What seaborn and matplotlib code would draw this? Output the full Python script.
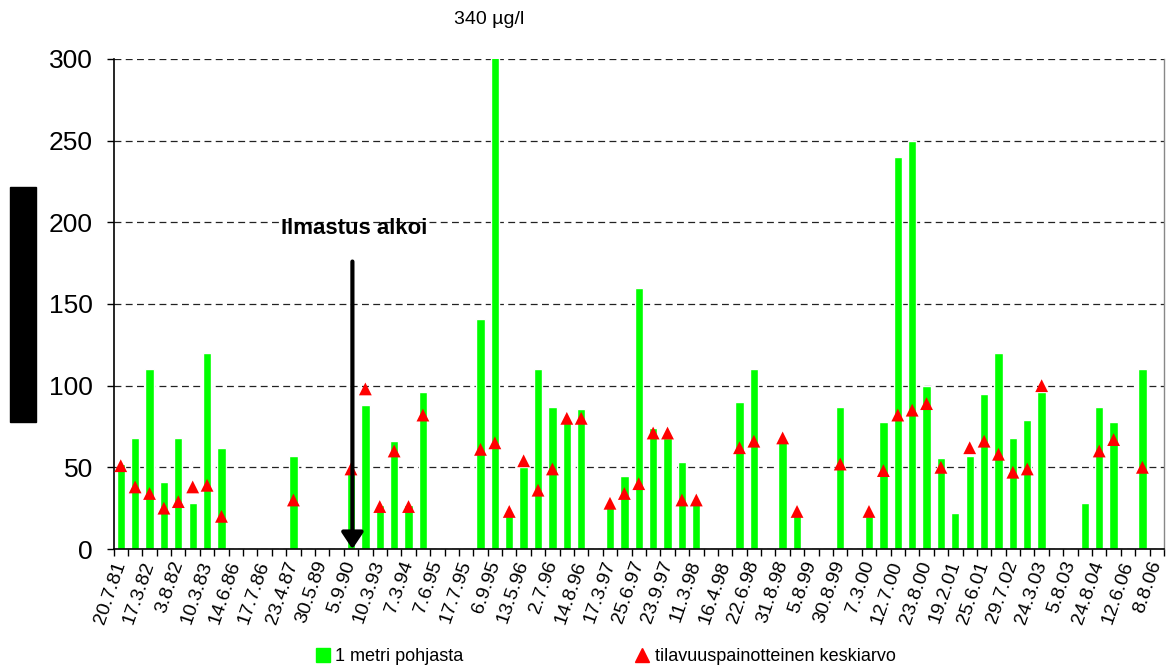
import numpy as np
import pandas as pd
import matplotlib
matplotlib.use("Agg")
import matplotlib.pyplot as plt
from matplotlib.lines import Line2D
from matplotlib.patches import Rectangle
import seaborn as sns

# Havaintopäivät: joka toinen luokka on nimetty akselilla
N_CATS = 73
tick_labels = ['20.7.81', '17.3.82', '3.8.82', '10.3.83', '14.6.86', '17.7.86',
               '23.4.87', '30.5.89', '5.9.90', '10.3.93', '7.3.94', '7.6.95',
               '17.7.95', '6.9.95', '13.5.96', '2.7.96', '14.8.96', '17.3.97',
               '25.6.97', '23.9.97', '11.3.98', '16.4.98', '22.6.98', '31.8.98',
               '5.8.99', '30.8.99', '7.3.00', '12.7.00', '23.8.00', '19.2.01',
               '25.6.01', '29.7.02', '24.3.03', '5.8.03', '24.8.04', '12.6.06',
               '8.8.06']

nan = np.nan
# 1 metri pohjasta (µg/l)
pohja = [52, 68, 110, 41, 68, 28, 120, 62, nan, nan,
         nan, nan, 57, nan, nan, nan, 48, 88, 27, 66,
         27, 96, nan, nan, nan, 141, 340, 21, 50, 110,
         87, 78, 86, nan, 26, 45, 160, 74, 68, 53,
         28, nan, nan, 90, 110, nan, 66, 21, nan, nan,
         87, nan, 20, 78, 240, 250, 100, 56, 22, 57,
         95, 120, 68, 79, 96, nan, nan, 28, 87, 78,
         nan, 110, nan]
# tilavuuspainotteinen keskiarvo (µg/l)
keskiarvo = [51, 38, 34, 25, 29, 38, 39, 20, nan, nan,
             nan, nan, 30, nan, nan, nan, 49, 98, 26, 60,
             26, 82, nan, nan, nan, 61, 65, 23, 54, 36,
             49, 80, 80, nan, 28, 34, 40, 71, 71, 30,
             30, nan, nan, 62, 66, nan, 68, 23, nan, nan,
             52, nan, 23, 48, 82, 85, 89, 50, nan, 62,
             66, 58, 47, 49, 100, nan, nan, nan, 60, 67,
             nan, 50, nan]

GREEN = '#00FF00'
RED = '#FF0000'

df = pd.DataFrame({'idx': np.arange(N_CATS), 'pohja': pohja, 'ka': keskiarvo})

sns.set_theme(style='white')
plt.rcParams['font.family'] = ['Liberation Sans', 'DejaVu Sans']
plt.rcParams['text.color'] = 'black'
plt.rcParams['xtick.color'] = 'black'
plt.rcParams['ytick.color'] = 'black'

fig = plt.figure(figsize=(11.67, 6.71), dpi=100)
ax = fig.add_axes([0.0973, 0.1818, 0.9001, 0.7303])

sns.barplot(data=df, x='idx', y='pohja', order=list(range(N_CATS)),
            color=GREEN, saturation=1, width=0.58, errorbar=None, ax=ax, zorder=2)
sns.scatterplot(data=df.dropna(subset=['ka']), x='idx', y='ka', marker='^',
                color=RED, s=85, edgecolor='none', ax=ax, zorder=3)

ax.set_xlim(-0.5, N_CATS - 0.5)
ax.set_ylim(0, 300)
ax.set_yticks(np.arange(0, 301, 50))
ax.yaxis.grid(True, color='#222222', linestyle=(0, (5.5, 3.5)), linewidth=0.9)
ax.set_axisbelow(True)

ax.set_xticks(np.arange(0, N_CATS, 2))
ax.set_xticklabels(tick_labels, rotation=71, ha='right', va='center',
                   rotation_mode='anchor', fontsize=14)
ax.set_xticks(np.arange(-0.5, N_CATS, 1), minor=True)
ax.tick_params(axis='x', which='major', length=0, pad=9)
ax.tick_params(axis='x', which='minor', length=5, width=1, color='black', bottom=True)
ax.tick_params(axis='y', length=5, width=1, color='black', left=True,
               labelsize=19, pad=10)
ax.set_xlabel('')
ax.set_ylabel('')

for side in ['left', 'bottom']:
    ax.spines[side].set_color('black')
    ax.spines[side].set_linewidth(1.2)
ax.spines['top'].set_visible(False)
ax.spines['right'].set_color('#888888')
ax.spines['right'].set_linewidth(1)

# ilmastuksen alku
ax.annotate('', xy=(16.1, 0), xytext=(16.1, 176),
            arrowprops=dict(arrowstyle='-|>,head_length=0.45,head_width=0.3',
                            color='black', lw=3, mutation_scale=22,
                            shrinkA=0, shrinkB=0),
            annotation_clip=False, zorder=5)
ax.text(16.2, 196, 'Ilmastus alkoi', ha='center', va='center',
        fontsize=16, fontweight='bold', zorder=5)
ax.text(25.6, 324, '340 µg/l', ha='center', va='center', fontsize=14,
        clip_on=False)

# peitetty y-akselin otsikko
fig.patches.append(Rectangle((0.00857, 0.371), 0.0223, 0.350,
                             transform=fig.transFigure, color='black'))

handles = [Line2D([], [], marker='s', linestyle='none', color=GREEN, markersize=10),
           Line2D([], [], marker='^', linestyle='none', color=RED, markersize=10)]
fig.legend(handles, ['1 metri pohjasta', 'tilavuuspainotteinen keskiarvo'],
           loc='center', bbox_to_anchor=(0.519, 0.021), ncol=2, frameon=False,
           fontsize=13, handlelength=0.8, handletextpad=0.3, columnspacing=9.5)

fig.savefig('out.png', dpi=100)
